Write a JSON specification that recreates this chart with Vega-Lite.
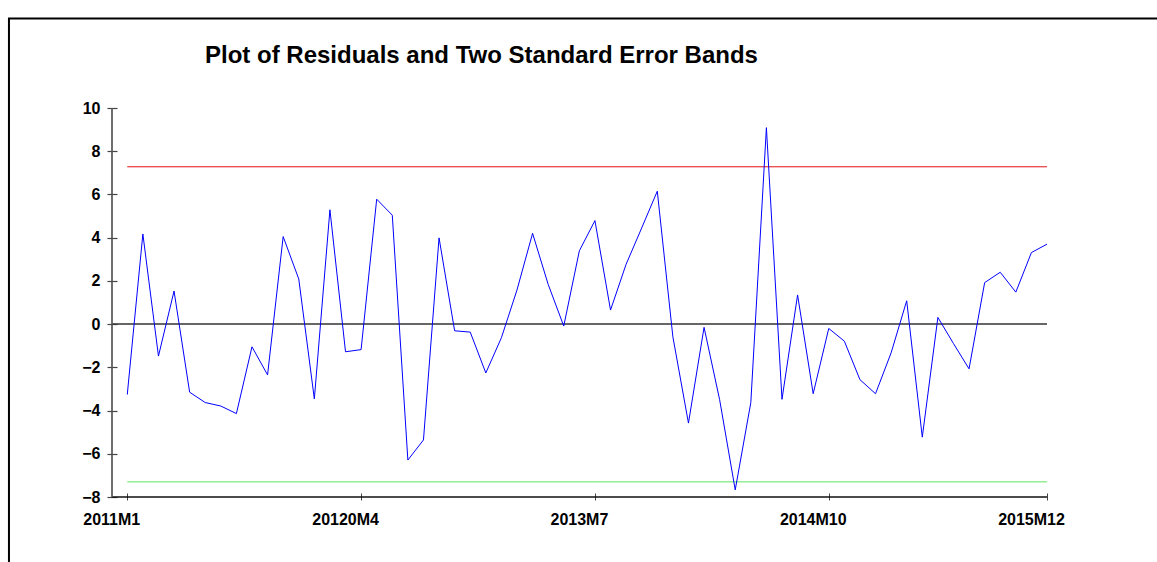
{
  "$schema": "https://vega.github.io/schema/vega-lite/v6.json",
  "width": 935,
  "height": 389,
  "autosize": {"type": "none"},
  "padding": {"left": 112, "top": 108, "right": 110, "bottom": 65},
  "background": "white",
  "config": {"view": {"stroke": null}, "font": "Liberation Sans"},
  "title": {
    "text": "Plot of Residuals and Two Standard Error Bands",
    "anchor": "start",
    "frame": "group",
    "dx": 93,
    "offset": -50,
    "baseline": "top",
    "font": "Liberation Sans",
    "fontSize": 24,
    "fontWeight": "bold",
    "color": "#000000"
  },
  "datasets": {
    "resid": [
      {"t": 0, "period": "2011M1", "resid": -3.26},
      {"t": 1, "period": "2011M2", "resid": 4.17},
      {"t": 2, "period": "2011M3", "resid": -1.48},
      {"t": 3, "period": "2011M4", "resid": 1.53},
      {"t": 4, "period": "2011M5", "resid": -3.15},
      {"t": 5, "period": "2011M6", "resid": -3.63},
      {"t": 6, "period": "2011M7", "resid": -3.79},
      {"t": 7, "period": "2011M8", "resid": -4.14},
      {"t": 8, "period": "2011M9", "resid": -1.05},
      {"t": 9, "period": "2011M10", "resid": -2.35},
      {"t": 10, "period": "2011M11", "resid": 4.05},
      {"t": 11, "period": "2011M12", "resid": 2.09},
      {"t": 12, "period": "2012M1", "resid": -3.46},
      {"t": 13, "period": "2012M2", "resid": 5.29},
      {"t": 14, "period": "2012M3", "resid": -1.28},
      {"t": 15, "period": "2012M4", "resid": -1.18},
      {"t": 16, "period": "2012M5", "resid": 5.78},
      {"t": 17, "period": "2012M6", "resid": 5.04},
      {"t": 18, "period": "2012M7", "resid": -6.29},
      {"t": 19, "period": "2012M8", "resid": -5.36},
      {"t": 20, "period": "2012M9", "resid": 3.99},
      {"t": 21, "period": "2012M10", "resid": -0.31},
      {"t": 22, "period": "2012M11", "resid": -0.37},
      {"t": 23, "period": "2012M12", "resid": -2.26},
      {"t": 24, "period": "2013M1", "resid": -0.63},
      {"t": 25, "period": "2013M2", "resid": 1.58},
      {"t": 26, "period": "2013M3", "resid": 4.2},
      {"t": 27, "period": "2013M4", "resid": 1.84},
      {"t": 28, "period": "2013M5", "resid": -0.09},
      {"t": 29, "period": "2013M6", "resid": 3.39},
      {"t": 30, "period": "2013M7", "resid": 4.79},
      {"t": 31, "period": "2013M8", "resid": 0.65},
      {"t": 32, "period": "2013M9", "resid": 2.77},
      {"t": 33, "period": "2013M10", "resid": 4.45},
      {"t": 34, "period": "2013M11", "resid": 6.15},
      {"t": 35, "period": "2013M12", "resid": -0.59},
      {"t": 36, "period": "2014M1", "resid": -4.58},
      {"t": 37, "period": "2014M2", "resid": -0.15},
      {"t": 38, "period": "2014M3", "resid": -3.5},
      {"t": 39, "period": "2014M4", "resid": -7.67},
      {"t": 40, "period": "2014M5", "resid": -3.63},
      {"t": 41, "period": "2014M6", "resid": 9.09},
      {"t": 42, "period": "2014M7", "resid": -3.48},
      {"t": 43, "period": "2014M8", "resid": 1.35},
      {"t": 44, "period": "2014M9", "resid": -3.22},
      {"t": 45, "period": "2014M10", "resid": -0.2},
      {"t": 46, "period": "2014M11", "resid": -0.79},
      {"t": 47, "period": "2014M12", "resid": -2.57},
      {"t": 48, "period": "2015M1", "resid": -3.22},
      {"t": 49, "period": "2015M2", "resid": -1.33},
      {"t": 50, "period": "2015M3", "resid": 1.08},
      {"t": 51, "period": "2015M4", "resid": -5.23},
      {"t": 52, "period": "2015M5", "resid": 0.31},
      {"t": 53, "period": "2015M6", "resid": -0.9},
      {"t": 54, "period": "2015M7", "resid": -2.07},
      {"t": 55, "period": "2015M8", "resid": 1.92},
      {"t": 56, "period": "2015M9", "resid": 2.4},
      {"t": 57, "period": "2015M10", "resid": 1.48},
      {"t": 58, "period": "2015M11", "resid": 3.31},
      {"t": 59, "period": "2015M12", "resid": 3.7}
    ],
    "bands": [
      {"band": "+2 SE", "value": 7.28},
      {"band": "-2 SE", "value": -7.3}
    ]
  },
  "layer": [
    {
      "data": {"values": [{}]},
      "mark": {"type": "rect", "filled": false, "stroke": "#000000", "strokeWidth": 2, "clip": false},
      "encoding": {
        "x": {"datum": -7.59, "type": "quantitative", "scale": {"domain": [-0.98, 59], "nice": false, "zero": false}},
        "x2": {"datum": 70},
        "y": {"datum": 14.14, "type": "quantitative", "scale": {"domain": [-8, 10], "nice": false, "zero": false}},
        "y2": {"datum": -11.6}
      }
    },
    {
      "data": {"values": [{}]},
      "mark": {"type": "rule", "stroke": "#333333", "strokeWidth": 1.5},
      "encoding": {"y": {"datum": 0, "type": "quantitative"}}
    },
    {
      "data": {"name": "bands"},
      "mark": {"type": "rule", "strokeWidth": 1},
      "encoding": {
        "y": {"field": "value", "type": "quantitative"},
        "x": {"datum": 0, "type": "quantitative"},
        "x2": {"datum": 59},
        "color": {"field": "band", "type": "nominal", "scale": {"domain": ["+2 SE", "-2 SE"], "range": ["#e81010", "#5fe35f"]}, "legend": null}
      }
    },
    {
      "data": {"name": "resid"},
      "mark": {"type": "line", "stroke": "#0000ff", "strokeWidth": 1},
      "encoding": {
        "x": {
          "field": "t", "type": "quantitative",
          "axis": {
            "title": null,
            "values": [0, 15, 30, 45, 59],
            "labelExpr": "datum.value == 0 ? '2011M1' : datum.value == 15 ? '20120M4' : datum.value == 30 ? '2013M7' : datum.value == 45 ? '2014M10' : '2015M12'",
            "domain": false,
            "grid": false,
            "offset": -4,
            "tickSize": 7,
            "tickColor": "#444444",
            "tickWidth": 1,
            "labelFont": "Liberation Sans",
            "labelFontSize": 16,
            "labelFontWeight": "bold",
            "labelColor": "#000000",
            "labelPadding": 11,
            "labelOffset": -16,
            "labelFlush": false,
            "labelOverlap": false,
            "labelBound": false
          }
        },
        "y": {
          "field": "resid", "type": "quantitative",
          "axis": {
            "title": null,
            "values": [-8, -7, -6, -5, -4, -3, -2, -1, 0, 1, 2, 3, 4, 5, 6, 7, 8, 9, 10],
            "labelExpr": "datum.value % 2 == 0 ? datum.label : ''",
            "domain": false,
            "grid": false,
            "offset": -5,
            "tickSize": 10,
            "tickColor": "#444444",
            "tickWidth": 1.2,
            "labelFont": "Liberation Sans",
            "labelFontSize": 16,
            "labelFontWeight": "bold",
            "labelColor": "#000000",
            "labelPadding": 7,
            "labelFlush": false,
            "labelOverlap": false,
            "labelBound": false
          }
        }
      }
    },
    {
      "data": {"values": [{}]},
      "mark": {"type": "rule", "stroke": "#111111", "strokeWidth": 1.3},
      "encoding": {"y": {"datum": -8, "type": "quantitative"}}
    },
    {
      "data": {"values": [{}]},
      "mark": {"type": "rule", "stroke": "#555555", "strokeWidth": 1.7},
      "encoding": {"x": {"datum": -0.98, "type": "quantitative"}}
    }
  ]
}
